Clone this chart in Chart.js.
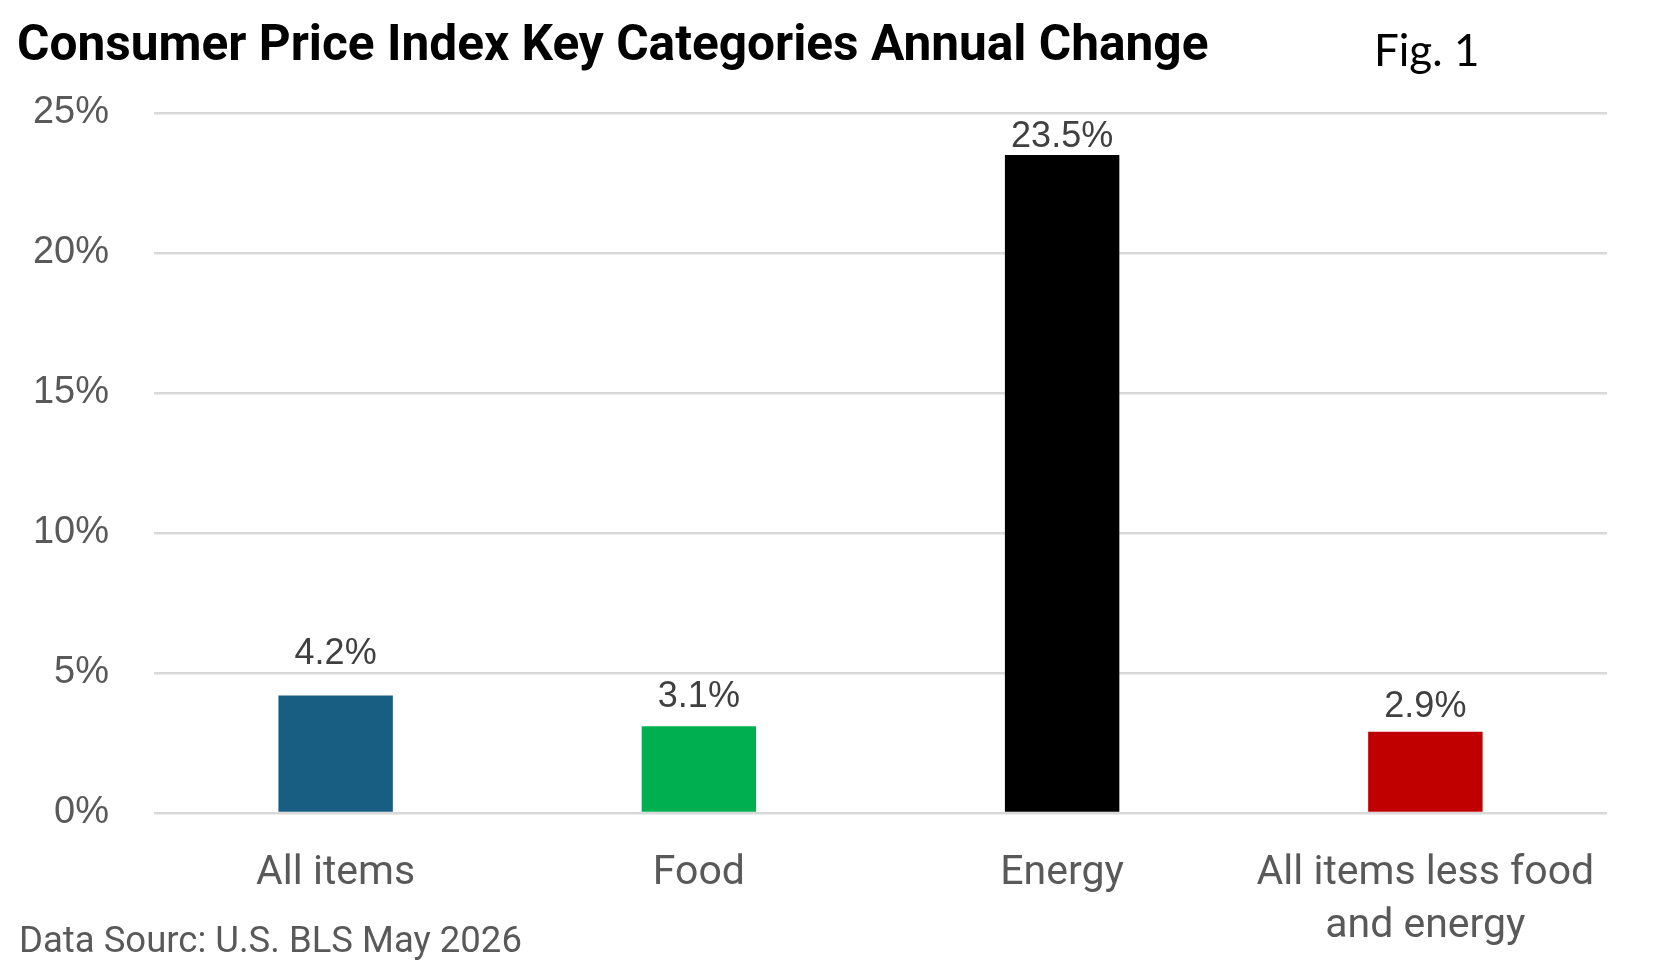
<!DOCTYPE html>
<html>
<head>
<meta charset="utf-8">
<script src="https://cdn.jsdelivr.net/npm/chart.js@4"></script>
<style>
  html, body { margin: 0; padding: 0; background: #fff; }
  #wrap { position: relative; width: 1658px; height: 971px; }
</style>
</head>
<body>
<div id="wrap"><canvas id="cpiChart" width="1658" height="971"></canvas></div>
<script>
const categories = ['All items', 'Food', 'Energy', ['All items less food', 'and energy']];
const annualChange = [4.2, 3.1, 23.5, 2.9];
const barColors = ['#175E82', '#00B050', '#000000', '#C00000'];
const yTicks = [0, 5, 10, 15, 20, 25];

const titleText = 'Consumer Price Index Key Categories Annual Change';
const figText = 'Fig. 1';
const sourceText = 'Data Sourc: U.S. BLS May 2026';

// gap in px between bar top and its value label (labels were hand placed)
const labelGap = [31, 19, 8, 15];

const LABEL_FONT = 'Roboto, "Noto Sans", sans-serif';

// title, fig number, source and value labels
const textPlugin = {
  id: 'texts',
  afterDatasetsDraw(chart) {
    const { ctx } = chart;
    ctx.save();
    ctx.textBaseline = 'alphabetic';

    ctx.fillStyle = '#000';
    ctx.textAlign = 'left';
    ctx.font = 'bold 49.6px "Liberation Sans Narrow", Roboto, sans-serif';
    ctx.fillText(titleText, 17, 60);

    ctx.font = '44px Lato, sans-serif';
    ctx.fillText(figText, 1374, 66);

    ctx.fillStyle = '#595959';
    ctx.font = '36.5px ' + LABEL_FONT;
    ctx.fillText(sourceText, 19, 952);

    ctx.fillStyle = '#404040';
    ctx.textAlign = 'center';
    ctx.font = '36px "Liberation Sans", Arial, sans-serif';
    chart.getDatasetMeta(0).data.forEach((bar, i) => {
      ctx.fillText(annualChange[i].toFixed(1) + '%', bar.x, bar.y - labelGap[i]);
    });
    ctx.restore();
  }
};

const ctx = document.getElementById('cpiChart').getContext('2d');
const chart = new Chart(ctx, {
  type: 'bar',
  data: {
    labels: categories,
    datasets: [
      {
        label: 'Annual change',
        data: annualChange,
        backgroundColor: barColors,
        categoryPercentage: 1,
        barPercentage: 0.315,
      },
    ],
  },
  options: {
    responsive: false,
    animation: false,
    layout: { padding: { top: 113, right: 51, left: 0, bottom: 0 } },
    scales: {
      x: {
        grid: { display: false },
        border: { display: false },
        ticks: {
          color: '#595959',
          font: { family: LABEL_FONT, size: 41, lineHeight: 1.3 },
          padding: 26,
          maxRotation: 0,
          autoSkip: false,
        },
        afterFit: (s) => { s.height = 158; },
      },
      y: {
        min: 0,
        max: 25,
        afterBuildTicks: (s) => { s.ticks = yTicks.map((v) => ({ value: v })); },
        grid: { color: '#D9D9D9', lineWidth: 2.5, drawTicks: false },
        border: { display: false },
        ticks: {
          color: '#595959',
          font: { family: '"Liberation Sans", Arial, sans-serif', size: 38 },
          padding: 45,
          callback: (v) => v + '%',
        },
        afterFit: (s) => { s.width = 154; },
      },
    },
    plugins: {
      legend: { display: false },
      tooltip: { enabled: false },
    },
  },
  plugins: [textPlugin],
});
</script>
</body>
</html>
